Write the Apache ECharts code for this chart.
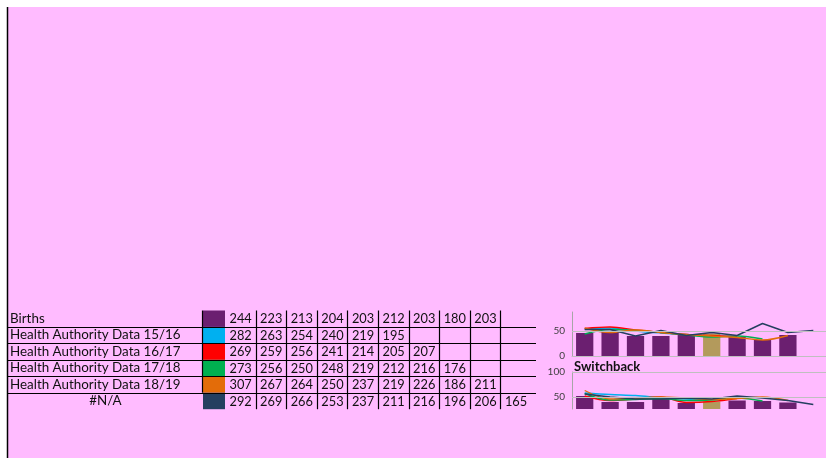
<!DOCTYPE html>
<html>
<head>
<meta charset="utf-8">
<script src="https://cdn.jsdelivr.net/npm/echarts@6/dist/echarts.min.js"></script>
<style>
html,body{margin:0;padding:0;background:#ffffff;}
#main{width:826px;height:466px;}
</style>
</head>
<body>
<div id="main"></div>
<script>
// ---------- DATA ----------
const categories = ['1','2','3','4','5','6','7','8','9','10'];
const tableLabels = ['Births','Health Authority Data 15/16','Health Authority Data 16/17','Health Authority Data 17/18','Health Authority Data 18/19','#N/A'];
const tableBirths = [244,223,213,204,203,212,203,180,203];
const tableHA1516 = [282,263,254,240,219,195];
const tableHA1617 = [269,259,256,241,214,205,207];
const tableHA1718 = [273,256,250,248,219,212,216,176];
const tableHA1819 = [307,267,264,250,237,219,226,186,211];
const tableNA     = [292,269,266,253,237,211,216,196,206,165];

// top mini chart
const c1Births = [46,49,40,40,43,45,38,32,42];
const c1HA1516 = [54,56,50,46,43,40];
const c1HA1617 = [55,58,52,47,43,41,39];
const c1HA1718 = [44,53,51,47,42,38,40,34];
const c1HA1819 = [56,47,52,47,43,40,37,32,41];
const c1NA     = [53,53,40,51,41,47,41,65,47,51];

// bottom mini chart "Switchback"
const c2Births = [52,40,40,46,38,41,43,42,39];
const c2HA1516 = [58,55,53,49,46,45];
const c2HA1617 = [52,43,46,50,39,41,47];
const c2HA1718 = [57,44,45,47,43,44,48,42];
const c2HA1819 = [63,46,48,50,48,45,47,50,43];
const c2NA     = [56,50,46,46,48,46,52,48,43,35];

// ---------- STYLES ----------
const colors = ['#6B1F70','#00B0F0','#FF0000','#00B050','#E36C09','#243F60'];
const highlightBar = '#B39A5C';
const pink = '#FFBBFF';
const font = 'Lato, "Open Sans", sans-serif';

const chart = echarts.init(document.getElementById('main'), null, {renderer:'canvas'});

// ---------- TABLE (graphic) ----------
const tableRows = [tableBirths, tableHA1516, tableHA1617, tableHA1718, tableHA1819, tableNA];
const T = {left: 8, labelRight: 203, swatchRight: 225, colW: 30.6, nCols: 10, top: 310.5, rowH: 16.45};
const g = [];
// background
g.push({type:'rect', shape:{x:8, y:7, width:818, height:451}, style:{fill:pink}, z:-10, silent:true});
g.push({type:'line', shape:{x1:7.5, y1:7, x2:7.5, y2:458}, style:{stroke:'#000', lineWidth:1.5}, z:-9, silent:true});

const tableRight = T.swatchRight + T.colW * T.nCols + 5;
tableRows.forEach((vals, r) => {
  const y0 = T.top + r * T.rowH;
  const yc = y0 + T.rowH / 2;
  g.push({type:'rect', shape:{x:T.labelRight, y:y0, width:T.swatchRight - T.labelRight, height:T.rowH}, style:{fill:colors[r]}, silent:true});
  const isLast = r === tableRows.length - 1;
  g.push({type:'text', x: isLast ? (T.left + T.labelRight)/2 : T.left + 2, y: yc,
    style:{text: tableLabels[r], fill:'#111', font:'13.4px ' + font, textAlign: isLast ? 'center':'left', textVerticalAlign:'middle'}, silent:true});
  vals.forEach((v, c) => {
    g.push({type:'text', x: T.swatchRight + c * T.colW + 4.5, y: yc + 0.5,
      style:{text: String(v), fill:'#111', font:'12.8px ' + font, textAlign:'left', textVerticalAlign:'middle'}, silent:true});
  });
  if (!isLast) {
    const yl = Math.round(y0 + T.rowH) + 0.5;
    g.push({type:'line', shape:{x1:T.left, y1:yl, x2:tableRight, y2:yl}, style:{stroke:'#000', lineWidth:1.2}, z:5, silent:true});
  }
});
for (let c = 1; c < T.nCols; c++) {
  const x = Math.round(T.swatchRight + c * T.colW) + 0.5;
  g.push({type:'line', shape:{x1:x, y1:T.top, x2:x, y2:T.top + T.rowH * tableRows.length}, style:{stroke:'#000', lineWidth:1.2}, silent:true});
}
g.push({type:'line', shape:{x1:T.labelRight - 0.5, y1:T.top, x2:T.labelRight - 0.5, y2:T.top + T.rowH * 5}, style:{stroke:'#000', lineWidth:1.2}, z:6, silent:true});

// ---------- MINI CHARTS ----------
function gridLine(vals){
  return {silent:true, symbol:'none', label:{show:false},
    lineStyle:{color:'#BFBFBF', width:1, type:'solid'},
    data: vals.map(v => ({yAxis:v}))};
}
function barSeries(data, idx, ml){
  return {type:'bar', xAxisIndex:idx, yAxisIndex:idx, data:data, barWidth:'68%', z:1,
    itemStyle:{color: p => p.dataIndex === 5 ? highlightBar : colors[0]},
    markLine: ml, animation:false};
}
function lineSeries(data, idx, ci, smooth){
  return {type:'line', xAxisIndex:idx, yAxisIndex:idx, data:data, showSymbol:false, symbol:'none',
    smooth: smooth ? 0.35 : false, z:3,
    lineStyle:{color:colors[ci], width:1.4}, itemStyle:{color:colors[ci]}, animation:false};
}
const axisLabelStyle = {color:'#404040', fontSize:10, fontFamily:font, margin:7};

const option = {
  backgroundColor:'#ffffff',
  animation:false,
  graphic: g,
  title:{text:'Switchback', left:574, top:360, padding:0, textStyle:{fontFamily:font, fontWeight:'bold', fontSize:13, color:'#111'}},
  grid:[
    {left:572, top:312, width:257, height:44},
    {left:572, top:372, width:257, height:37}
  ],
  xAxis:[
    {type:'category', gridIndex:0, data:categories, axisLine:{show:true, lineStyle:{color:'#BFBFBF'}}, axisTick:{show:false}, axisLabel:{show:false}},
    {type:'category', gridIndex:1, data:categories, axisLine:{show:false}, axisTick:{show:false}, axisLabel:{show:false}}
  ],
  yAxis:[
    {type:'value', gridIndex:0, min:0, max:88, splitLine:{show:false}, axisTick:{show:false},
     axisLine:{show:true, lineStyle:{color:'#A6A6A6'}}, axisLabel:Object.assign({customValues:[0,50]}, axisLabelStyle)},
    {type:'value', gridIndex:1, min:26, max:100, splitLine:{show:false}, axisTick:{show:false},
     axisLine:{show:true, lineStyle:{color:'#A6A6A6'}}, axisLabel:Object.assign({customValues:[50,100]}, axisLabelStyle)}
  ],
  series:[
    barSeries(c1Births, 0, gridLine([50])),
    lineSeries(c1HA1516, 0, 1, true),
    lineSeries(c1HA1617, 0, 2, true),
    lineSeries(c1HA1718, 0, 3, true),
    lineSeries(c1HA1819, 0, 4, true),
    lineSeries(c1NA, 0, 5, false),
    barSeries(c2Births, 1, gridLine([50,100])),
    lineSeries(c2HA1516, 1, 1, true),
    lineSeries(c2HA1617, 1, 2, true),
    lineSeries(c2HA1718, 1, 3, true),
    lineSeries(c2HA1819, 1, 4, true),
    lineSeries(c2NA, 1, 5, false)
  ]
};
chart.setOption(option);
</script>
</body>
</html>
